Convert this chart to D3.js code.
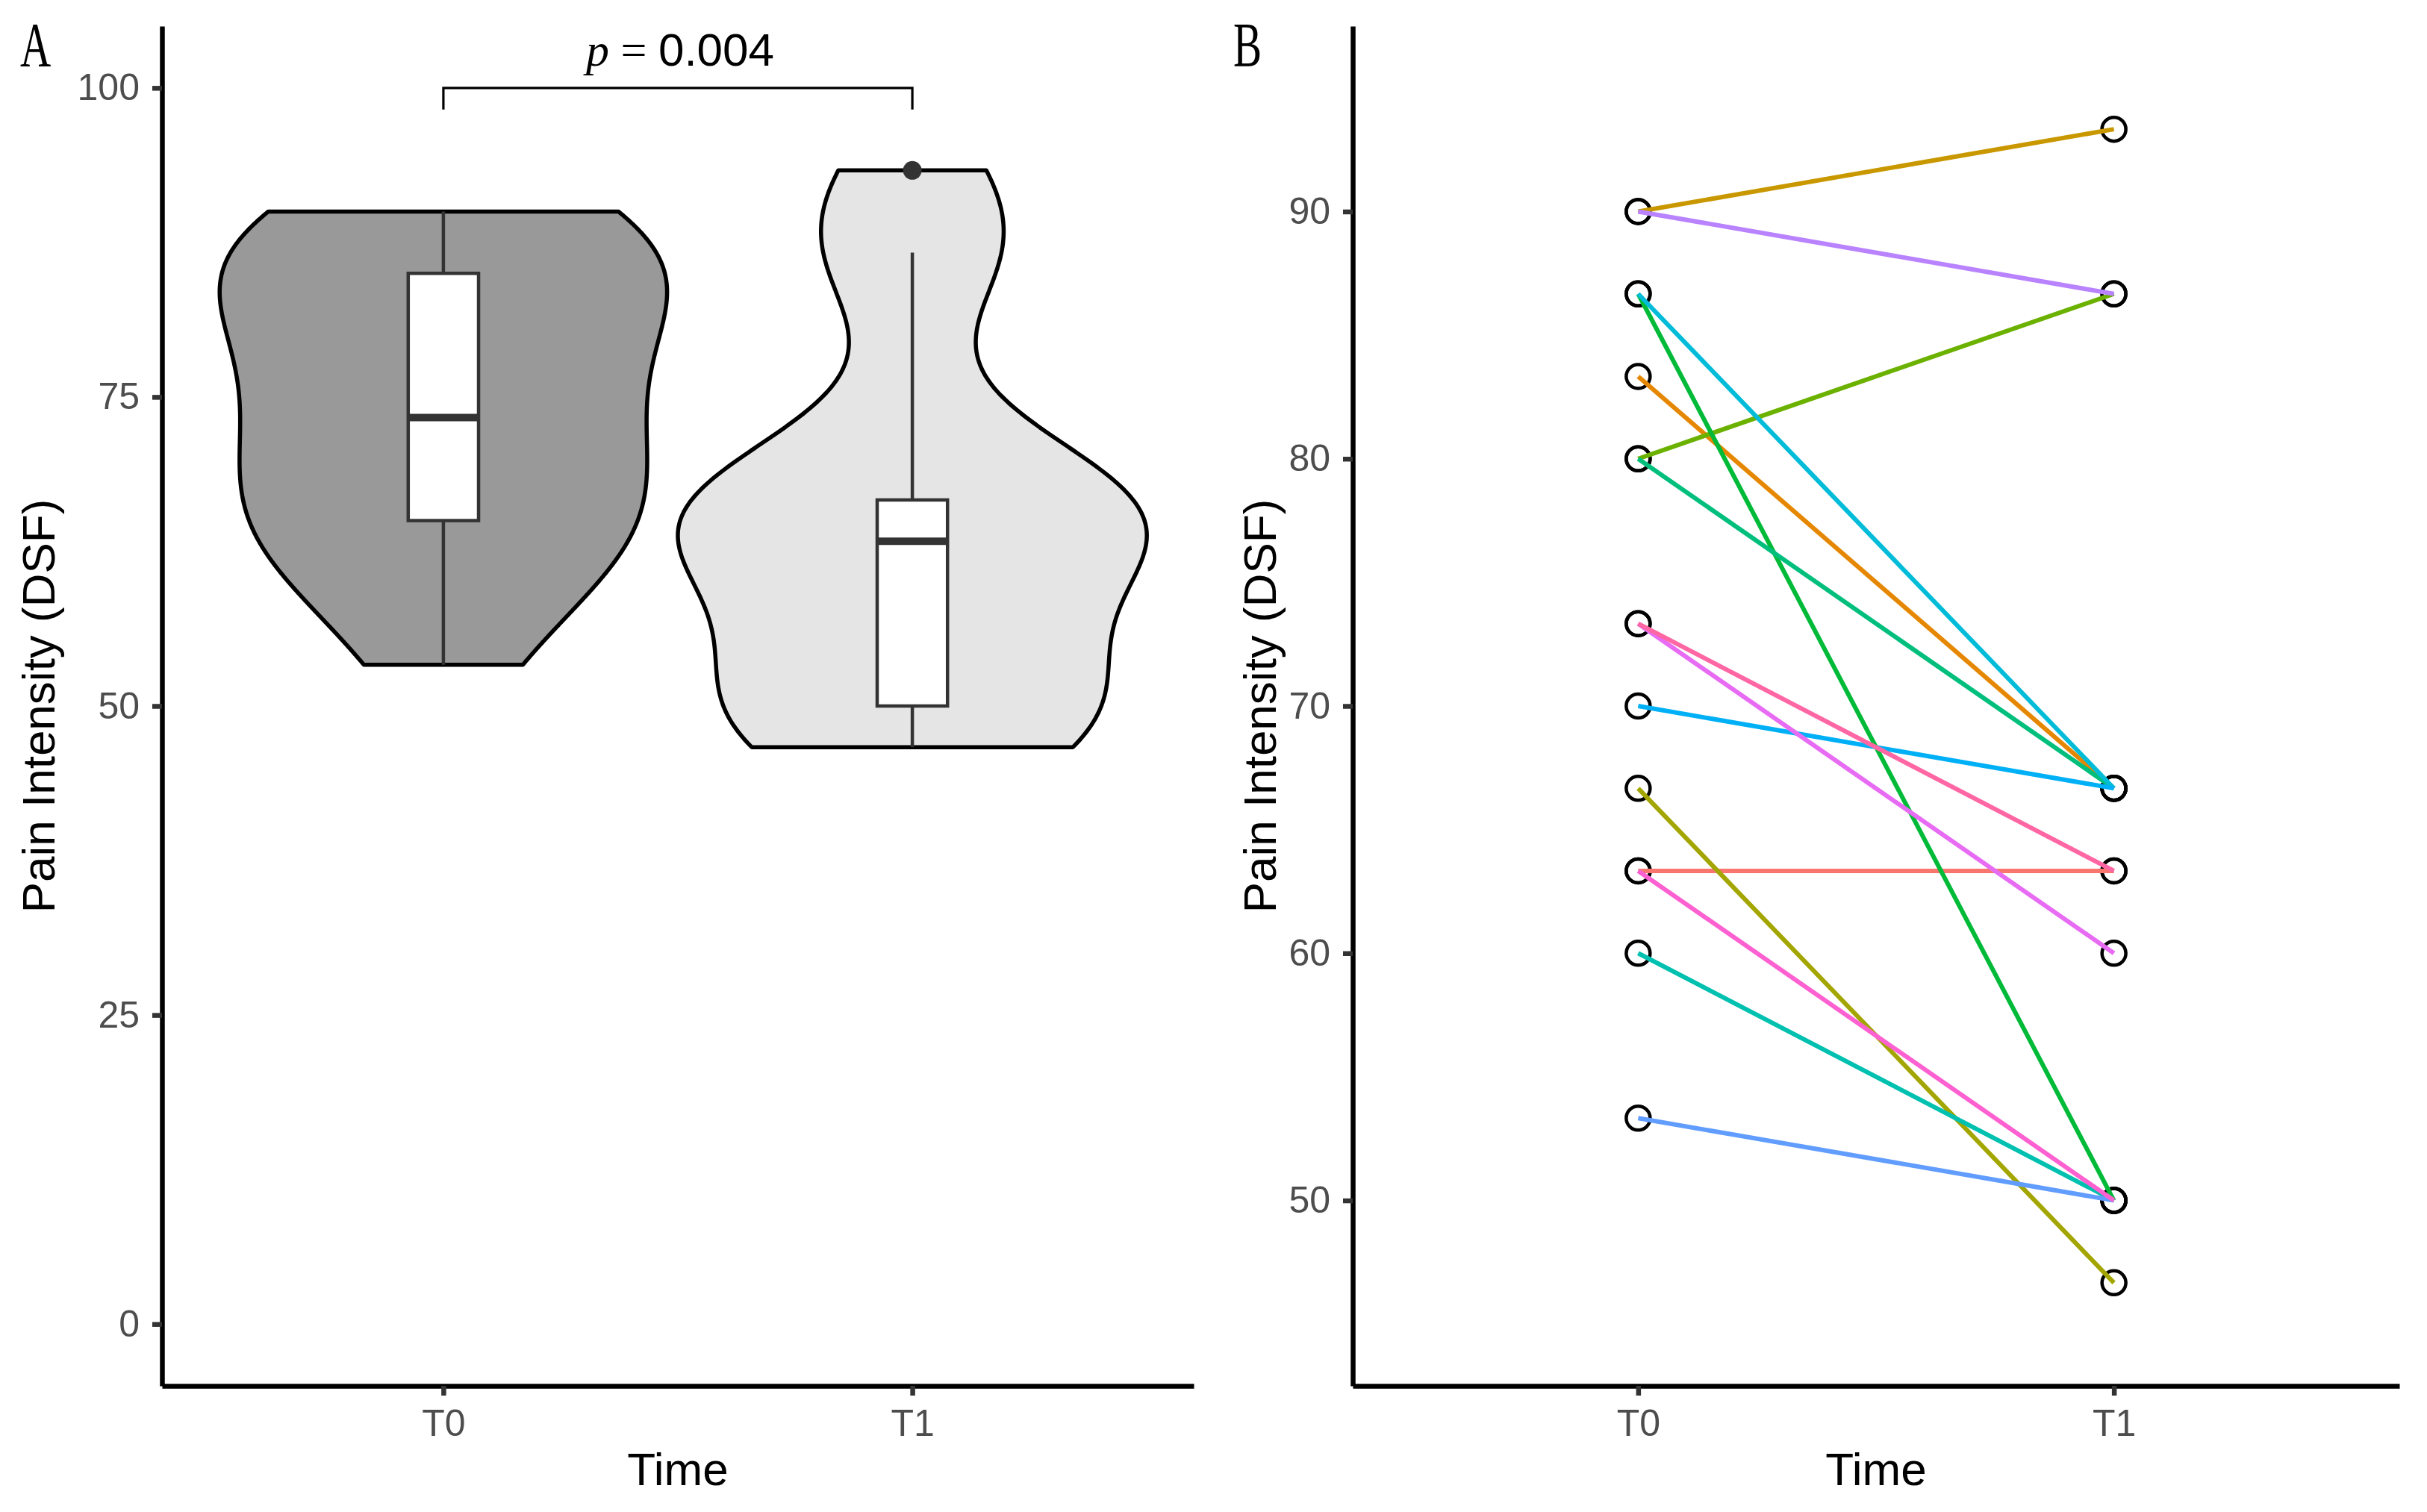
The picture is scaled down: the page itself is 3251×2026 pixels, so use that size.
<!DOCTYPE html>
<html>
<head>
<meta charset="utf-8">
<script src="https://cdn.jsdelivr.net/npm/d3@7"></script>
<style>
  body { margin: 0; background: #fff; }
  svg { display: block; }
</style>
</head>
<body>
<div id="chart"></div>
<script>
'use strict';

// data: 15 subjects, pain intensity (DSF) at T0 and T1
const timePoints = ['T0', 'T1'];
const painT0 = [63.33, 83.33, 90, 66.67, 80, 86.67, 80, 60, 86.67, 70, 53.33, 90, 73.33, 63.33, 73.33];
const painT1 = [63.33, 66.67, 93.33, 46.67, 86.67, 50, 66.67, 50, 66.67, 66.67, 50, 86.67, 60, 50, 63.33];
const yTicksA = [0, 25, 50, 75, 100];
const yTicksB = [50, 60, 70, 80, 90];
const pValueText = '0.004';

// ggplot hue palette for 15 subjects
const subjectColors = ['#F8766D', '#E58700', '#C99800', '#A3A500', '#6BB100', '#00BA38', '#00BF7D',
  '#00C0AF', '#00BCD8', '#00B0F6', '#619CFF', '#B983FF', '#E76BF3', '#FD61D1', '#FF67A4'];
const violinFill = ['#999999', '#E5E5E5'];

const W = 3251, H = 2026;
const font = '"Liberation Sans", Arial, sans-serif';
const serif = '"Liberation Serif", "Times New Roman", serif';

const svg = d3.select('#chart').append('svg')
    .attr('width', W)
    .attr('height', H);

const groups = [painT0, painT1];

// ---------- helpers ----------
function styleAxis(g) {
  g.attr('font-family', font);
  g.select('.domain').attr('stroke', '#000').attr('stroke-width', 6.5);
  g.selectAll('.tick line').attr('stroke', '#333333').attr('stroke-width', 6.5);
  g.selectAll('.tick text').attr('fill', '#4D4D4D').attr('font-size', 50);
}

function bandwidth(vals) {
  const sd = d3.deviation(vals);
  const iqr = d3.quantile(vals, 0.75) - d3.quantile(vals, 0.25);
  return 0.9 * Math.min(sd, iqr / 1.34) * Math.pow(vals.length, -0.2);
}

function kde(vals) {
  const bw = bandwidth(vals);
  const lo = d3.min(vals), hi = d3.max(vals);
  const n = 512;
  return d3.range(n).map(i => {
    const y = lo + (hi - lo) * i / (n - 1);
    const s = d3.sum(vals, v => Math.exp(-0.5 * ((y - v) / bw) ** 2));
    return {y: y, d: s / (vals.length * bw * Math.sqrt(2 * Math.PI))};
  });
}

function panelLabel(txt, x) {
  svg.append('text')
      .attr('transform', 'translate(' + x + ',89) scale(0.68,1)')
      .attr('font-family', serif)
      .attr('font-size', 84)
      .attr('fill', '#000')
      .text(txt);
}

function axisTitles(x0, x1, yTitleX) {
  svg.append('text')
      .attr('x', (x0 + x1) / 2)
      .attr('y', 1990)
      .attr('text-anchor', 'middle')
      .attr('font-family', font)
      .attr('font-size', 62)
      .text('Time');
  svg.append('text')
      .attr('transform', 'translate(' + yTitleX + ',946) rotate(-90)')
      .attr('text-anchor', 'middle')
      .attr('font-family', font)
      .attr('font-size', 62)
      .text('Pain Intensity (DSF)');
}

// ---------- panel A: violin + boxplot ----------
const xA = d3.scalePoint().domain(timePoints).range([217, 1599]).padding(0.6);
const yA = d3.scaleLinear().domain([-5, 105]).range([1857, 35]);
const unitA = xA.step();

const dens = groups.map(kde);
const maxD = d3.max(dens, g => d3.max(g, p => p.d));

const gA = svg.append('g');

dens.forEach((g, i) => {
  const cx = xA(timePoints[i]);
  const w = d => d / maxD * 0.5 * unitA;
  const pts = g.map(p => [cx - w(p.d), yA(p.y)])
      .concat(g.slice().reverse().map(p => [cx + w(p.d), yA(p.y)]));
  gA.append('path')
      .attr('d', d3.line()(pts) + 'Z')
      .attr('fill', violinFill[i])
      .attr('stroke', '#000')
      .attr('stroke-width', 5.5)
      .attr('stroke-linejoin', 'round');
});

groups.forEach((vals, i) => {
  const cx = xA(timePoints[i]);
  const s = vals.slice().sort(d3.ascending);
  const q1 = d3.quantile(s, 0.25), med = d3.quantile(s, 0.5), q3 = d3.quantile(s, 0.75);
  const iqr = q3 - q1;
  const upper = d3.max(s.filter(v => v <= q3 + 1.5 * iqr));
  const lower = d3.min(s.filter(v => v >= q1 - 1.5 * iqr));
  const outliers = s.filter(v => v > upper || v < lower);
  const bw = 0.15 * unitA;

  gA.append('line')
      .attr('x1', cx).attr('x2', cx)
      .attr('y1', yA(q3)).attr('y2', yA(upper))
      .attr('stroke', '#333333').attr('stroke-width', 4.5);
  gA.append('line')
      .attr('x1', cx).attr('x2', cx)
      .attr('y1', yA(q1)).attr('y2', yA(lower))
      .attr('stroke', '#333333').attr('stroke-width', 4.5);
  gA.append('rect')
      .attr('x', cx - bw / 2).attr('width', bw)
      .attr('y', yA(q3)).attr('height', yA(q1) - yA(q3))
      .attr('fill', '#fff')
      .attr('stroke', '#333333').attr('stroke-width', 4.5);
  gA.append('line')
      .attr('x1', cx - bw / 2).attr('x2', cx + bw / 2)
      .attr('y1', yA(med)).attr('y2', yA(med))
      .attr('stroke', '#333333').attr('stroke-width', 10);
  gA.selectAll(null)
      .data(outliers)
      .enter().append('circle')
      .attr('cx', cx)
      .attr('cy', d => yA(d))
      .attr('r', 12.5)
      .attr('fill', '#333333');
});

// significance bracket
gA.append('path')
    .attr('d', d3.line()([
      [xA('T0'), yA(98.25)], [xA('T0'), yA(100)],
      [xA('T1'), yA(100)], [xA('T1'), yA(98.25)]
    ]))
    .attr('fill', 'none')
    .attr('stroke', '#000')
    .attr('stroke-width', 3.2);

const pText = gA.append('text')
    .attr('x', (xA('T0') + xA('T1')) / 2 + 3)
    .attr('y', 88)
    .attr('text-anchor', 'middle')
    .attr('font-size', 62)
    .attr('font-family', font);
pText.append('tspan').attr('font-family', serif).attr('font-style', 'italic').text('p');
pText.append('tspan').attr('font-family', serif).text(' = ');
pText.append('tspan').text(pValueText);

svg.append('g')
    .attr('transform', 'translate(0,1857)')
    .call(d3.axisBottom(xA).tickSize(13).tickSizeOuter(0).tickPadding(18))
    .call(styleAxis);
svg.append('g')
    .attr('transform', 'translate(217,0)')
    .call(d3.axisLeft(yA).tickValues(yTicksA).tickSize(13).tickSizeOuter(0).tickPadding(17))
    .call(styleAxis);

panelLabel('A', 27);
axisTitles(217, 1599, 73);

// ---------- panel B: paired lines ----------
const xB = d3.scalePoint().domain(timePoints).range([1812, 3214]).padding(0.6);
const yB = d3.scaleLinear().domain([42.5, 97.5]).range([1857, 35]);

const pairs = painT0.map((v, i) => ({id: i, t0: v, t1: painT1[i]}));
const gB = svg.append('g');

gB.selectAll('.pt')
    .data(pairs.flatMap(p => [{t: 'T0', v: p.t0}, {t: 'T1', v: p.t1}]))
    .enter().append('circle')
    .attr('class', 'pt')
    .attr('cx', d => xB(d.t))
    .attr('cy', d => yB(d.v))
    .attr('r', 16)
    .attr('fill', 'none')
    .attr('stroke', '#000')
    .attr('stroke-width', 4.5);

gB.selectAll('.pair')
    .data(pairs)
    .enter().append('line')
    .attr('class', 'pair')
    .attr('x1', xB('T0'))
    .attr('y1', d => yB(d.t0))
    .attr('x2', xB('T1'))
    .attr('y2', d => yB(d.t1))
    .attr('stroke', d => subjectColors[d.id])
    .attr('stroke-width', 6);

svg.append('g')
    .attr('transform', 'translate(0,1857)')
    .call(d3.axisBottom(xB).tickSize(13).tickSizeOuter(0).tickPadding(18))
    .call(styleAxis);
svg.append('g')
    .attr('transform', 'translate(1812,0)')
    .call(d3.axisLeft(yB).tickValues(yTicksB).tickSize(13).tickSizeOuter(0).tickPadding(17))
    .call(styleAxis);

panelLabel('B', 1652);
axisTitles(1812, 3214, 1709);
</script>
</body>
</html>
